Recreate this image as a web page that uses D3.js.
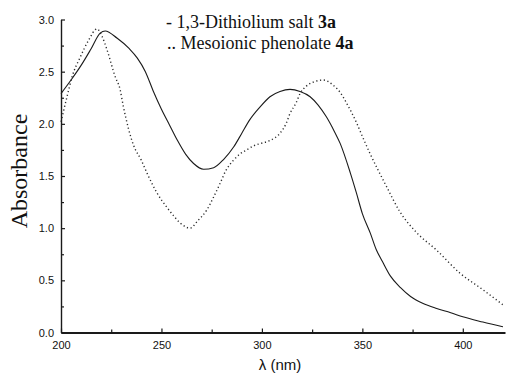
<!DOCTYPE html>
<html>
<head>
<meta charset="utf-8">
<script src="https://cdn.jsdelivr.net/npm/d3@7"></script>
<style>
  html, body { margin: 0; padding: 0; background: #fff; }
  svg { display: block; }
</style>
</head>
<body>
<svg id="chart"></svg>
<script>
// UV-Vis spectra
const saltNm  = [200, 205, 210, 215, 219.5, 222, 228, 234, 238, 242, 246, 250, 254, 258, 262, 266, 271, 276, 281, 286, 290, 294, 299, 304, 309, 314, 319, 324, 328, 332, 336, 339, 344, 347, 350, 354, 357, 360, 364, 369, 374, 380, 387, 394, 400, 410, 420];
const saltAbs = [2.29, 2.42, 2.56, 2.72, 2.87, 2.89, 2.82, 2.72, 2.63, 2.50, 2.31, 2.14, 1.99, 1.84, 1.71, 1.62, 1.565, 1.58, 1.66, 1.78, 1.91, 2.04, 2.16, 2.26, 2.31, 2.33, 2.31, 2.26, 2.18, 2.07, 1.93, 1.81, 1.53, 1.34, 1.14, 0.95, 0.79, 0.68, 0.54, 0.43, 0.345, 0.28, 0.23, 0.19, 0.15, 0.10, 0.055];

const phenNm  = [200, 203, 205.5, 209.6, 213.7, 217.9, 220.4, 222.9, 227, 229.4, 231, 236, 240, 243, 247.7, 252.7, 256, 259.3, 264.3, 268, 272.6, 276, 279.2, 282, 285.8, 289, 292.4, 296, 299, 304, 309, 312, 314, 317, 319, 322, 325.5, 330.5, 335.5, 339, 342.1, 347.1, 350, 353.7, 358, 362, 368.6, 376.9, 386.9, 398.5, 410, 420];
const phenAbs = [2.02, 2.26, 2.45, 2.64, 2.80, 2.91, 2.84, 2.71, 2.45, 2.33, 2.17, 1.80, 1.65, 1.52, 1.34, 1.20, 1.12, 1.05, 1.00, 1.07, 1.175, 1.30, 1.43, 1.55, 1.65, 1.71, 1.75, 1.79, 1.81, 1.84, 1.91, 2.00, 2.10, 2.20, 2.29, 2.36, 2.40, 2.42, 2.37, 2.30, 2.20, 2.01, 1.88, 1.72, 1.55, 1.40, 1.16, 0.96, 0.79, 0.57, 0.41, 0.265];

const xTicks = [200, 250, 300, 350, 400];
const xMinor = [225, 275, 325, 375];
const yTicks = [0, 0.5, 1.0, 1.5, 2.0, 2.5, 3.0];
const yMinor = [0.25, 0.75, 1.25, 1.75, 2.25, 2.75];

const width = 507, height = 374;
const margin = { top: 19.5, right: 2, bottom: 41.5, left: 61 };

const svg = d3.select('#chart')
  .attr('width', width)
  .attr('height', height);

const x = d3.scaleLinear()
  .domain([200, 421])
  .range([margin.left, width - margin.right]);

const y = d3.scaleLinear()
  .domain([0, 3])
  .range([height - margin.bottom, margin.top]);

const ink = '#1a1a1a';
const tickFont = '"Liberation Sans", Arial, sans-serif';
const serif = '"Liberation Serif", "Times New Roman", serif';

// Curves
const saltData = saltNm.map((d, i) => ({ nm: d, a: saltAbs[i] }));
const phenData = phenNm.map((d, i) => ({ nm: d, a: phenAbs[i] }));

const line = d3.line()
  .x(d => x(d.nm))
  .y(d => y(d.a))
  .curve(d3.curveMonotoneX);

svg.append('path')
  .datum(saltData)
  .attr('d', line)
  .attr('fill', 'none')
  .attr('stroke', ink)
  .attr('stroke-width', 1.1);

svg.append('path')
  .datum(phenData)
  .attr('d', line)
  .attr('fill', 'none')
  .attr('stroke', '#2a2a2a')
  .attr('stroke-width', 1.4)
  .attr('stroke-dasharray', '1.2,2.6');

// Y axis
const yAxis = svg.append('g')
  .attr('transform', `translate(${margin.left},0)`)
  .call(d3.axisLeft(y)
    .tickValues(yTicks)
    .tickFormat(d3.format('.1f'))
    .tickSizeInner(-4)
    .tickSizeOuter(0)
    .tickPadding(7));

svg.append('g')
  .attr('transform', `translate(${margin.left},0)`)
  .call(d3.axisLeft(y).tickValues(yMinor).tickFormat('').tickSizeInner(-3).tickSizeOuter(0))
  .call(g => g.select('.domain').remove());

// X axis
const xAxis = svg.append('g')
  .attr('transform', `translate(0,${height - margin.bottom})`)
  .call(d3.axisBottom(x)
    .tickValues(xTicks)
    .tickFormat(d3.format('d'))
    .tickSizeInner(-4)
    .tickSizeOuter(0)
    .tickPadding(9));

svg.append('g')
  .attr('transform', `translate(0,${height - margin.bottom})`)
  .call(d3.axisBottom(x).tickValues(xMinor).tickFormat('').tickSizeInner(-3).tickSizeOuter(0))
  .call(g => g.select('.domain').remove());

svg.selectAll('.tick line').attr('stroke', ink).attr('stroke-width', 1.2);
yAxis.select('.domain').attr('stroke', ink).attr('stroke-width', 1.4);
xAxis.select('.domain').attr('stroke', ink).attr('stroke-width', 1.8);
svg.selectAll('.tick text')
  .attr('fill', '#111')
  .style('font-family', tickFont)
  .style('font-size', '11px');

// Axis titles
svg.append('text')
  .attr('transform', 'translate(27,171) rotate(-90)')
  .attr('text-anchor', 'middle')
  .style('font-family', serif)
  .style('font-size', '24px')
  .attr('fill', '#111')
  .text('Absorbance');

svg.append('text')
  .attr('x', 280)
  .attr('y', 370)
  .attr('text-anchor', 'middle')
  .style('font-family', tickFont)
  .style('font-size', '15px')
  .attr('fill', '#111')
  .text('λ (nm)');

// Legend
const legend = svg.append('g')
  .style('font-family', serif)
  .style('font-size', '18px')
  .attr('fill', '#111');

const l1 = legend.append('text').attr('x', 166).attr('y', 28);
l1.append('tspan').text('- 1,3-Dithiolium salt ');
l1.append('tspan').style('font-weight', 'bold').text('3a');

const l2 = legend.append('text').attr('x', 167).attr('y', 49);
l2.append('tspan').text('.. Mesoionic phenolate ');
l2.append('tspan').style('font-weight', 'bold').text('4a');
</script>
</body>
</html>
